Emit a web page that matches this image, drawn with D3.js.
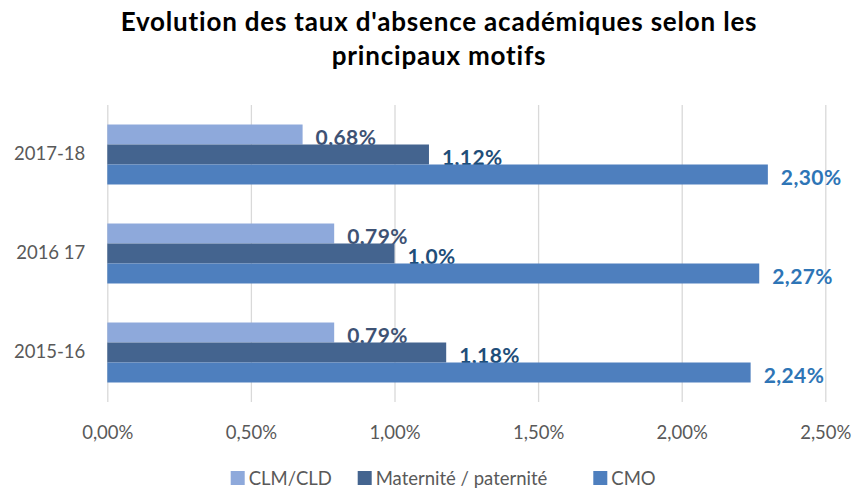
<!DOCTYPE html>
<html>
<head>
<meta charset="utf-8">
<script src="https://cdn.jsdelivr.net/npm/d3@7"></script>
<style>
  html, body { margin: 0; padding: 0; background: #fff; }
  svg { display: block; font-family: Lato, "Open Sans", sans-serif; }
</style>
</head>
<body>
<svg id="chart" width="855" height="490"></svg>
<script>
// Academic absence rates (%) by main reason, per school year
const years = ["2017-18", "2016 17", "2015-16"];
const seriesNames = ["CLM/CLD", "Maternité / paternité", "CMO"];
const clmCld = [0.68, 0.79, 0.79];
const maternite = [1.12, 1.0, 1.18];
const cmo = [2.30, 2.27, 2.24];
const valueLabels = [
  ["0,68%", "0,79%", "0,79%"],
  ["1,12%", "1,0%", "1,18%"],
  ["2,30%", "2,27%", "2,24%"]
];
const xTicks = [0, 0.5, 1.0, 1.5, 2.0, 2.5];
const xTickLabels = ["0,00%", "0,50%", "1,00%", "1,50%", "2,00%", "2,50%"];

const seriesValues = [clmCld, maternite, cmo];
const barColors = ["#8EA9DB", "#44648F", "#4E7FBE"];
const labelColors = ["#3E5274", "#1F4E79", "#2E75B6"];

const svg = d3.select("#chart");

// Title
const title = svg.append("text")
  .attr("text-anchor", "middle")
  .attr("font-weight", 700)
  .attr("font-size", 26)
  .attr("letter-spacing", 0.8)
  .attr("fill", "#000");
title.append("tspan").attr("x", 439).attr("y", 31).text("Evolution des taux d'absence académiques selon les");
title.append("tspan").attr("x", 439).attr("y", 65).text("principaux motifs");

// Scales
const x = d3.scaleLinear().domain([0, 2.5]).range([107.3, 825.3]);
const y = d3.scaleBand().domain(years).range([105, 402])
  .paddingInner(0.394).paddingOuter(0.197);
const ySub = d3.scaleBand().domain(d3.range(seriesNames.length)).range([0, y.bandwidth()]);

// Vertical gridlines and percentage ticks
const xAxis = d3.axisBottom(x).tickValues(xTicks)
  .tickSize(-(402 - 105))
  .tickFormat((d, i) => xTickLabels[i]);
const gx = svg.append("g").attr("transform", "translate(0,402)").call(xAxis);
gx.select(".domain").remove();
gx.selectAll(".tick line").attr("stroke", "#D9D9D9").attr("stroke-width", 1.3);
gx.selectAll(".tick text")
  .attr("font-family", "Lato, sans-serif")
  .attr("font-size", 18.5)
  .attr("fill", "#595959")
  .attr("dy", null)
  .attr("y", 30)
  .attr("dominant-baseline", "central");

// Category axis labels
const yAxis = d3.axisLeft(y).tickSize(0).tickPadding(22);
const gy = svg.append("g").attr("transform", "translate(107.3,0)").call(yAxis);
gy.select(".domain").remove();
gy.selectAll(".tick text")
  .attr("font-family", "Lato, sans-serif")
  .attr("font-size", 18.5)
  .attr("fill", "#595959");

// Bars and value labels
const groups = svg.append("g").selectAll("g")
  .data(years)
  .join("g")
  .attr("transform", d => `translate(0,${y(d)})`);

seriesValues.forEach((vals, s) => {
  groups.append("rect")
    .attr("x", x(0))
    .attr("y", ySub(s))
    .attr("width", (d, i) => x(vals[i]) - x(0))
    .attr("height", ySub.bandwidth())
    .attr("fill", barColors[s]);

  groups.append("text")
    .attr("x", (d, i) => x(vals[i]) + 13)
    .attr("y", ySub(s) + ySub.bandwidth() / 2 + 2)
    .attr("dominant-baseline", "central")
    .attr("font-weight", 700)
    .attr("font-size", 21)
    .attr("letter-spacing", 0.4)
    .attr("fill", labelColors[s])
    .text((d, i) => valueLabels[s][i]);
});

// Legend
const legendPos = [230.7, 357.7, 593.3];
const legend = svg.append("g").selectAll("g")
  .data(seriesNames)
  .join("g")
  .attr("transform", (d, i) => `translate(${legendPos[i]},478)`);
legend.append("rect")
  .attr("x", 0).attr("y", -7).attr("width", 14).attr("height", 14)
  .attr("fill", (d, i) => barColors[i]);
legend.append("text")
  .attr("x", 18)
  .attr("dominant-baseline", "central")
  .attr("font-size", 18.5)
  .attr("fill", "#595959")
  .text(d => d);
</script>
</body>
</html>
